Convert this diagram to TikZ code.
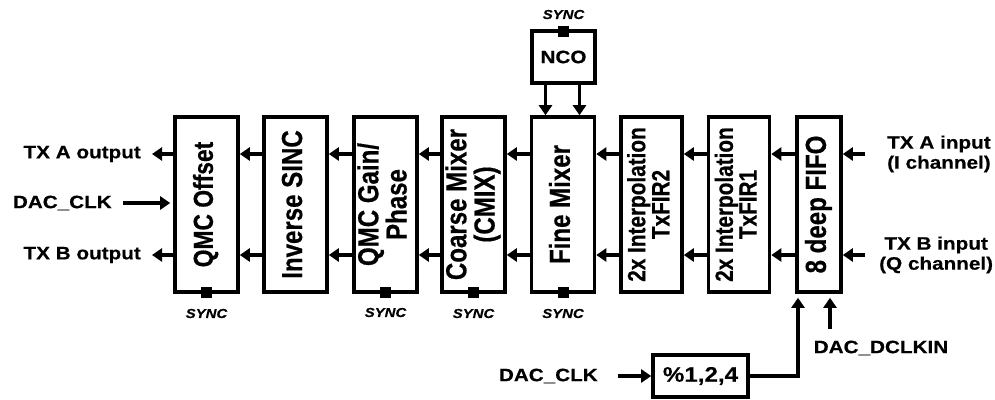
\documentclass[tikz,border=0pt]{standalone}
\usepackage{fontspec}
\usepackage{graphicx}
\setmainfont{Liberation Sans}
\newfontfamily\hfont[FakeStretch=1.15,FakeBold=0.4]{Liberation Sans}
\newfontfamily\vfont[FakeStretch=0.83,FakeBold=0.5]{Liberation Sans}
\usetikzlibrary{arrows.meta,positioning}
\newcommand{\vtext}[3]{\rotatebox{90}{\vfont\bfseries\fontsize{#1}{#2}\selectfont\begin{tabular}{@{}c@{}}#3\end{tabular}}}

\tikzset{
  box/.style={draw, line width=3.6pt, inner sep=0pt},
  blk/.style={box, minimum width=#1, minimum height=175pt},
  sig/.style={line width=3.2pt, -{Triangle[length=10pt,width=13pt]}},
  lbl/.style={font=\hfont\bfseries\fontsize{18}{20}\selectfont, align=center, inner sep=0pt},
  synctxt/.style={font=\hfont\bfseries\itshape\fontsize{13}{14}\selectfont, inner sep=0pt},
  syncsq/.style={fill=black, minimum size=11pt, inner sep=0pt},
}

\begin{document}
\begin{tikzpicture}[x=1pt,y=-1pt]
	\useasboundingbox (0,0) rectangle (995,399);
	
	\coordinate (rowA) at (0,154);
	\coordinate (rowB) at (0,255);
	
	% processing chain
	\node[blk=63pt] (qoff) at (206.5,204.5) {\vtext{27.5}{24}{QMC Offset}};
	\node[blk=63pt] (isinc) at (295.5,204.5) {\vtext{29}{24}{Inverse SINC}};
	\node[blk=63pt] (qgain) at (385.5,204.5) {\vtext{29}{24}{QMC Gain/\\Phase}};
	\node[blk=63pt] (cmix) at (473.5,204.5) {\vtext{29}{24}{Coarse Mixer\\(CMIX)}};
	\node[blk=63pt] (fmix) at (563,204.5) {\vtext{29}{24}{Fine Mixer}};
	\node[blk=61pt] (fir2) at (651.5,204.5) {\vtext{25}{22}{2x Interpolation\\TxFIR2}};
	\node[blk=61pt] (fir1) at (739,204.5) {\vtext{25}{22}{2x Interpolation\\TxFIR1}};
	\node[blk=44pt] (fifo) at (819,204.5) {\vtext{29}{24}{8 deep FIFO}};
	
	\node[box, lbl, minimum width=63pt, minimum height=52pt] (nco) at (563.5,57) {NCO};
	\node[box, font=\hfont\bfseries\fontsize{21}{24}\selectfont, minimum width=95pt, minimum height=42pt] (div) at (700.5,376) {\%1,2,4};
	
	% chain arrows
	\draw[sig] (isinc.west |- rowA) -- (qoff.east |- rowA);
	\draw[sig] (isinc.west |- rowB) -- (qoff.east |- rowB);
	\draw[sig] (qgain.west |- rowA) -- (isinc.east |- rowA);
	\draw[sig] (qgain.west |- rowB) -- (isinc.east |- rowB);
	\draw[sig] (cmix.west |- rowA) -- (qgain.east |- rowA);
	\draw[sig] (cmix.west |- rowB) -- (qgain.east |- rowB);
	\draw[sig] (fmix.west |- rowA) -- (cmix.east |- rowA);
	\draw[sig] (fmix.west |- rowB) -- (cmix.east |- rowB);
	\draw[sig] (fir2.west |- rowA) -- (fmix.east |- rowA);
	\draw[sig] (fir2.west |- rowB) -- (fmix.east |- rowB);
	\draw[sig] (fir1.west |- rowA) -- (fir2.east |- rowA);
	\draw[sig] (fir1.west |- rowB) -- (fir2.east |- rowB);
	\draw[sig] (fifo.west |- rowA) -- (fir1.east |- rowA);
	\draw[sig] (fifo.west |- rowB) -- (fir1.east |- rowB);
	
	\draw[sig] ([xshift=-18pt]nco.south) -- ([xshift=-18pt]nco.south |- fmix.north);
	\draw[sig] ([xshift=16pt]nco.south) -- ([xshift=16pt]nco.south |- fmix.north);
	
	% sync points
	\node[syncsq] (sqA) at ([yshift=1.8pt]qoff.south) {};
	\node[syncsq] (sqB) at ([yshift=1.8pt]qgain.south) {};
	\node[syncsq] (sqC) at ([yshift=1.8pt]cmix.south) {};
	\node[syncsq] (sqD) at ([yshift=1.8pt]fmix.south) {};
	\node[syncsq] (sqN) at ([yshift=-1.8pt]nco.north) {};
	\node[synctxt, below=11pt of sqA] (syncA) {SYNC};
	\node[synctxt, below=10pt of sqB] (syncB) {SYNC};
	\node[synctxt, below=11pt of sqC] (syncC) {SYNC};
	\node[synctxt, below=11pt of sqD] (syncD) {SYNC};
	\node[synctxt, above=6pt of sqN] (syncN) {SYNC};
	
	% outputs
	\coordinate (outA) at (152,154);
	\coordinate (outB) at (152,255);
	\coordinate (clkL) at (123,203);
	\node[lbl, left=11pt of outA] (txaout) {TX A output};
	\node[lbl, left=11pt of outB] (txbout) {TX B output};
	\node[lbl, left=11pt of clkL] (dacclkL) {DAC\_CLK};
	\draw[sig] (qoff.west |- outA) -- (outA);
	\draw[sig] (qoff.west |- outB) -- (outB);
	\draw[sig, shorten >=3pt] (clkL) -- (qoff.west |- clkL);
	
	% inputs
	\coordinate (inA) at (865,154);
	\coordinate (inB) at (865,255);
	\node[lbl, right=22pt of inA] (txain) {TX A input\\(I channel)};
	\node[lbl, right=14pt of inB] (txbin) {TX B input\\(Q channel)};
	\draw[sig] (inA) -- (fifo.east |- inA);
	\draw[sig] (inB) -- (fifo.east |- inB);
	
	% clocks
	\coordinate (dclkin) at (830,329);
	\coordinate (clkB) at (618,376);
	\node[lbl] (dacdclkin) at (881,348) {DAC\_DCLKIN};
	\node[lbl, left=20pt of clkB] (dacclkB) {DAC\_CLK};
	\draw[sig, shorten >=4pt] (dclkin) -- (dclkin |- fifo.south);
	\draw[sig] (clkB) -- (div.west);
	\draw[sig, shorten >=4pt] (div.east) -| ([xshift=-21pt]fifo.south);
\end{tikzpicture}
\end{document}
